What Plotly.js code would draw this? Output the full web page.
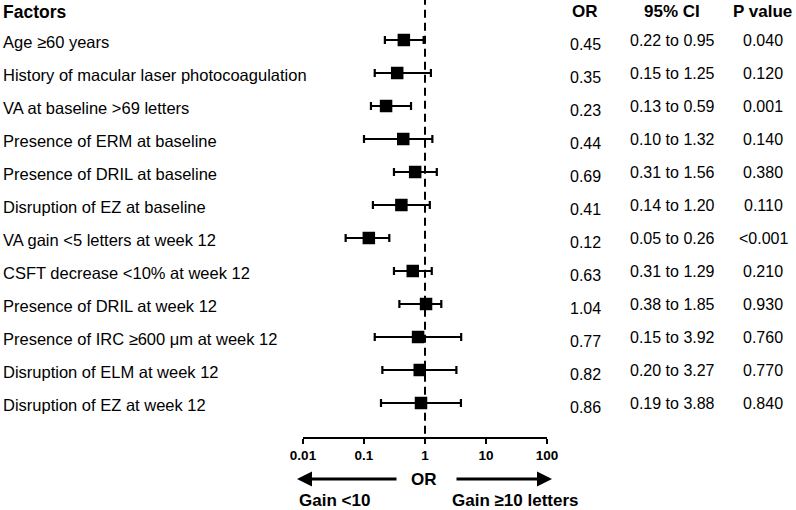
<!DOCTYPE html>
<html>
<head>
<meta charset="utf-8">
<script src="https://cdn.plot.ly/plotly-3.0.1.min.js"></script>
<style>
  html, body { margin: 0; padding: 0; background: #fff; }
  #chart { width: 796px; height: 510px; }
</style>
</head>
<body>
<div id="chart"></div>
<script>
  const factors = [
    'Age ≥60 years',
    'History of macular laser photocoagulation',
    'VA at baseline >69 letters',
    'Presence of ERM at baseline',
    'Presence of DRIL at baseline',
    'Disruption of EZ at baseline',
    'VA gain <5 letters at week 12',
    'CSFT decrease <10% at week 12',
    'Presence of DRIL at week 12',
    'Presence of IRC ≥600 μm at week 12',
    'Disruption of ELM at week 12',
    'Disruption of EZ at week 12'
  ];
  const oddsRatios = [0.45, 0.35, 0.23, 0.44, 0.69, 0.41, 0.12, 0.63, 1.04, 0.77, 0.82, 0.86];
  const ciLow = [0.22, 0.15, 0.13, 0.10, 0.31, 0.14, 0.05, 0.31, 0.38, 0.15, 0.20, 0.19];
  const ciHigh = [0.95, 1.25, 0.59, 1.32, 1.56, 1.20, 0.26, 1.29, 1.85, 3.92, 3.27, 3.88];
  const pValues = ['0.040', '0.120', '0.001', '0.140', '0.380', '0.110', '<0.001', '0.210', '0.930', '0.760', '0.770', '0.840'];
  const tickValues = [0.01, 0.1, 1, 10, 100];
  const tickLabels = ['0.01', '0.1', '1', '10', '100'];

  const W = 796, H = 510;
  const FONT = 'Liberation Sans, Arial, sans-serif';
  const px = (x) => x / W;
  const py = (y) => (H - y) / H;

  // rows top to bottom: first factor gets highest y
  const rowY = factors.map((_, i) => factors.length - i);
  const yRange = [12 - 397 / 33, 12 + 40 / 33];
  const fmt2 = (v) => v.toFixed(2);

  const trace = {
    type: 'scatter',
    mode: 'markers',
    x: oddsRatios,
    y: rowY,
    marker: { symbol: 'square', size: 12.5, color: '#000' },
    error_x: {
      type: 'data',
      symmetric: false,
      array: oddsRatios.map((v, i) => ciHigh[i] - v),
      arrayminus: oddsRatios.map((v, i) => v - ciLow[i]),
      color: '#000',
      thickness: 2.2,
      width: 4
    },
    hoverinfo: 'skip',
    showlegend: false
  };

  const annotations = [];
  const txt = (text, x, y, opts = {}) => annotations.push(Object.assign({
    text, x, y, xref: 'paper', yref: 'y', showarrow: false,
    xanchor: 'center', yanchor: 'middle',
    font: { family: FONT, size: 16, color: '#000' }
  }, opts));

  factors.forEach((name, i) => {
    txt(name, px(1), rowY[i], {
      xanchor: 'left', yshift: -2,
      font: { family: FONT, size: 16.5, color: '#000' }
    });
    txt(fmt2(oddsRatios[i]), px(585), rowY[i], { yshift: -4 });
    txt(`${fmt2(ciLow[i])} to ${fmt2(ciHigh[i])}`, px(672), rowY[i]);
    txt(pValues[i], px(763), rowY[i]);
  });

  const bold = (size) => ({ family: FONT, size, color: '#000', weight: 'bold' });
  const head = (text, x, y, anchor, size) => annotations.push({
    text, x: px(x), y: py(y), xref: 'paper', yref: 'paper', showarrow: false,
    xanchor: anchor, yanchor: 'middle', font: bold(size)
  });
  head('Factors', 1, 12, 'left', 17.5);
  head('OR', 585, 11, 'center', 17);
  head('95% CI', 672, 11, 'center', 17);
  head('P value', 762, 11, 'center', 17);
  head('OR', 424, 479, 'center', 17);
  head('Gain <10', 297, 500, 'left', 17);
  head('Gain ≥10 letters', 450, 500, 'left', 17);

  const arrow = (xHead, tail) => annotations.push({
    text: '', x: px(xHead), y: py(479), xref: 'paper', yref: 'paper',
    showarrow: true, ax: tail, ay: 0, arrowhead: 2, arrowsize: 1,
    arrowwidth: 3, arrowcolor: '#000', standoff: 0
  });
  arrow(297, 101);
  arrow(552, -97);

  const layout = {
    width: W,
    height: H,
    margin: { l: 0, r: 0, t: 0, b: 0 },
    paper_bgcolor: '#fff',
    plot_bgcolor: 'rgba(0,0,0,0)',
    xaxis: {
      type: 'log',
      range: [-2, 2],
      domain: [px(303), px(547)],
      tickvals: tickValues,
      ticktext: tickLabels,
      ticks: 'outside',
      ticklen: 5,
      tickwidth: 2,
      tickcolor: '#000',
      showline: true,
      linecolor: '#000',
      linewidth: 2,
      showgrid: false,
      zeroline: false,
      tickfont: bold(13.5),
      fixedrange: true
    },
    yaxis: {
      range: yRange,
      domain: [py(437), 1],
      visible: false,
      showgrid: false,
      zeroline: false,
      fixedrange: true
    },
    shapes: [{
      type: 'line',
      xref: 'x', yref: 'y',
      x0: 1, x1: 1, y0: yRange[0] + 0.1, y1: yRange[1],
      line: { color: '#000', width: 2, dash: '8px,5px' },
      layer: 'below'
    }],
    annotations
  };

  Plotly.newPlot('chart', [trace], layout, { displayModeBar: false, staticPlot: true });
</script>
</body>
</html>
